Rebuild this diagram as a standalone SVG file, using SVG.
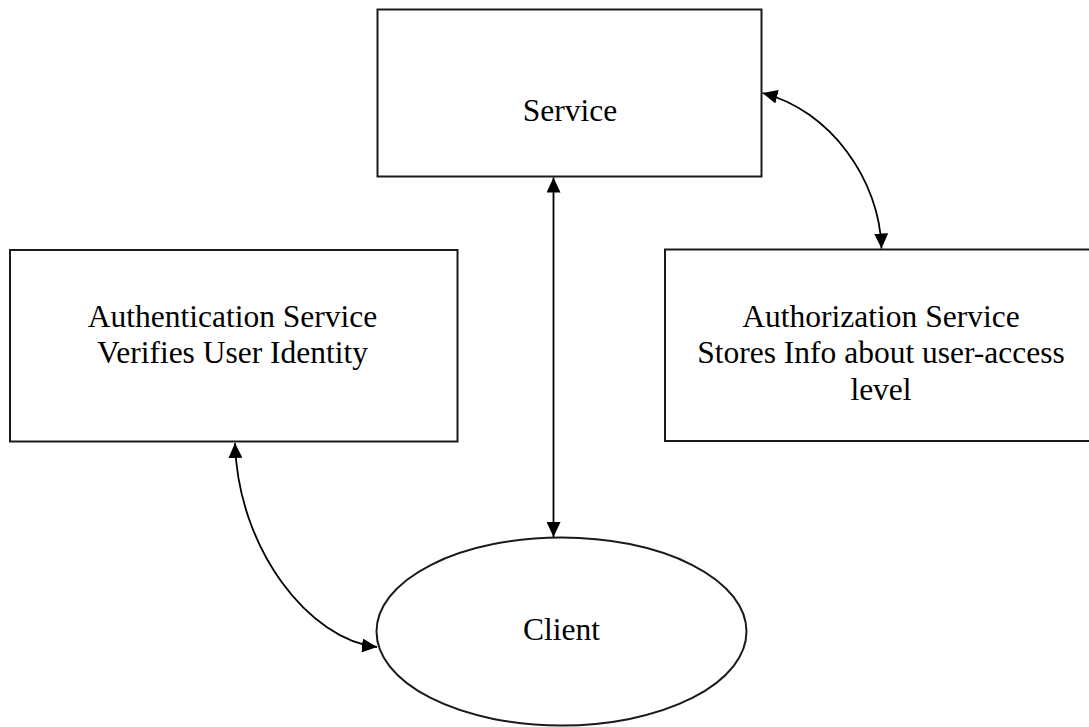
<svg xmlns="http://www.w3.org/2000/svg" width="1089" height="727" viewBox="0 0 1089 727">
  <style>
    .box { fill: #ffffff; stroke: #1a1a1a; stroke-width: 2; }
    .label { font-family: "Liberation Serif", "Times New Roman", serif; font-size: 31.5px; fill: #000000; text-anchor: middle; }
    .link { fill: none; stroke: #000000; stroke-width: 1.8; marker-start: url(#head); marker-end: url(#head); }
  </style>
  <defs>
    <marker id="head" viewBox="0 0 15 14" refX="15" refY="7" markerWidth="15" markerHeight="14" markerUnits="userSpaceOnUse" orient="auto-start-reverse">
      <path d="M0,0 L15,7 L0,14 Z" fill="#000000"/>
    </marker>
  </defs>
  <rect width="1089" height="727" fill="#ffffff"/>

  <g id="service">
    <rect class="box" x="377.5" y="9.5" width="384" height="167"/>
    <text class="label" x="570" y="121">Service</text>
  </g>

  <g id="authentication">
    <rect class="box" x="10" y="250" width="447.5" height="191.5"/>
    <text class="label" x="232.5" y="327">Authentication Service</text>
    <text class="label" x="232.5" y="363">Verifies User Identity</text>
  </g>

  <g id="authorization">
    <rect class="box" x="665" y="249.5" width="440" height="191.5"/>
    <text class="label" x="881" y="327">Authorization Service</text>
    <text class="label" x="881" y="363">Stores Info about user-access</text>
    <text class="label" x="881" y="400">level</text>
  </g>

  <g id="client">
    <ellipse class="box" cx="561.5" cy="631.5" rx="185" ry="94"/>
    <text class="label" x="561.5" y="640">Client</text>
  </g>

  <g id="connectors">
    <line class="link" x1="553.5" y1="177.5" x2="553.5" y2="537"/>
    <path class="link" d="M762.5,93 C830,110 880,180 881.5,248.5"/>
    <path class="link" d="M235,443 C238,550 310,640 377,647"/>
  </g>
</svg>
